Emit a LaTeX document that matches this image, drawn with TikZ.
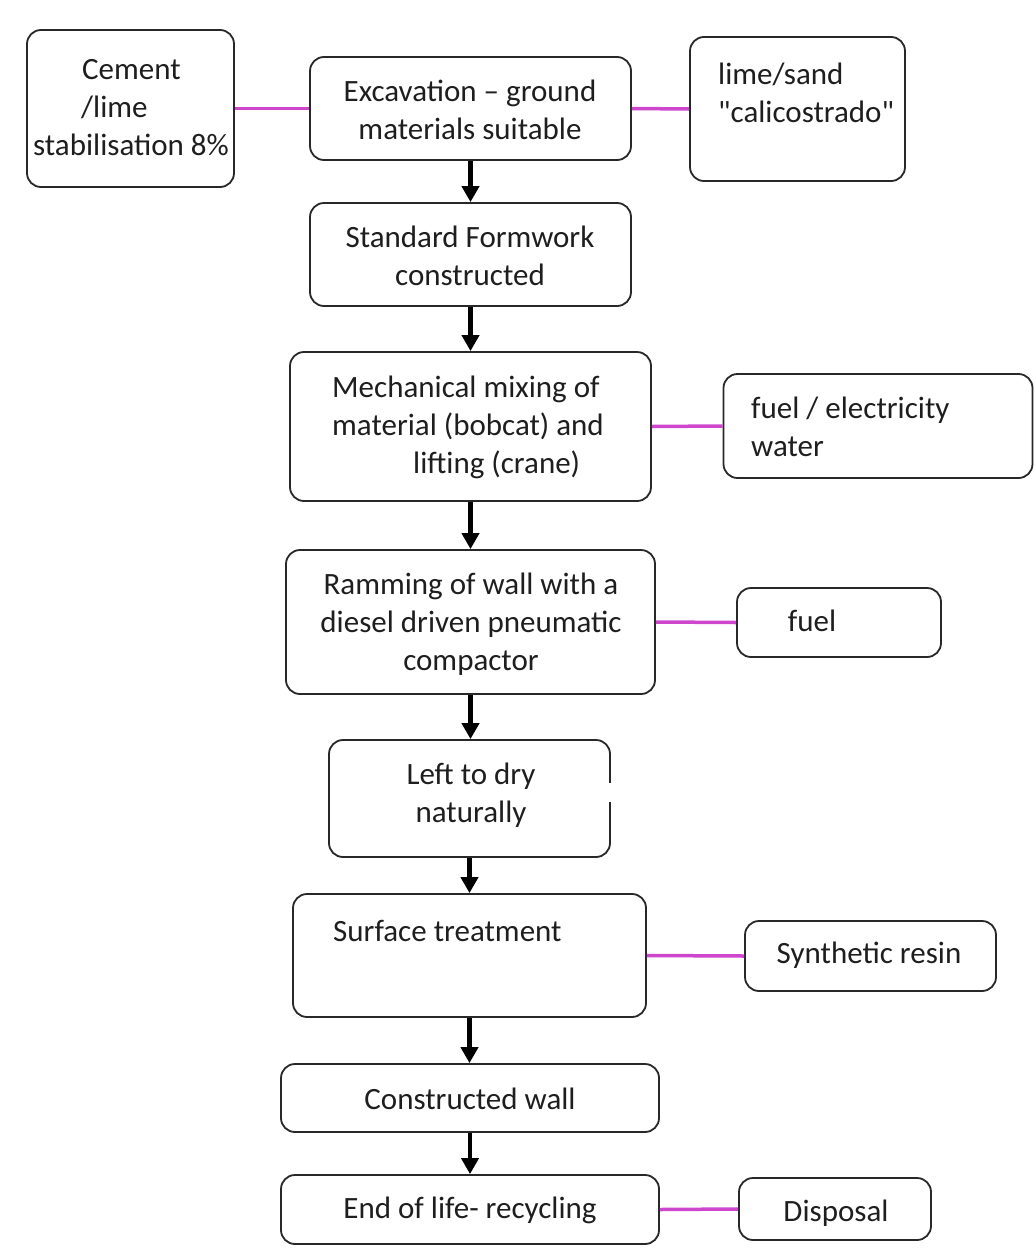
\documentclass[tikz,border=0pt]{standalone}
\usepackage{fontspec}
\setmainfont{Carlito}
\newfontfamily\plainq{Carlito}[Ligatures=TeXOff]
\usetikzlibrary{arrows.meta}
\definecolor{ink}{RGB}{30,30,30}
\definecolor{edge}{RGB}{40,40,40}
\definecolor{link}{RGB}{205,70,205}
\tikzset{
  box/.style={draw=edge, line width=1.8pt, rounded corners=14pt, inner sep=0pt, text=ink},
  txt/.style={inner sep=0pt, text=ink, font=\fontsize{31}{38}\selectfont},
  arr/.style={line width=4.2pt, black, -{Triangle[length=16pt,width=17pt]}},
  lnk/.style={line width=3.5pt, link}
}
\begin{document}
\begin{tikzpicture}[x=1pt,y=-1pt]
\useasboundingbox (0,0) rectangle (1034,1253);
% boxes
\node[box, minimum width=207pt, minimum height=157pt] (cem) at (130.5,108.5) {};
\node[box, minimum width=321pt, minimum height=103pt] (exc) at (470.5,108.5) {};
\node[box, minimum width=215pt, minimum height=144pt] (lime) at (797.5,109) {};
\node[box, minimum width=321pt, minimum height=103pt] (fw) at (470.5,254.5) {};
\node[box, minimum width=361pt, minimum height=149pt] (mix) at (470.5,426.5) {};
\node[box, minimum width=309pt, minimum height=104pt] (fe) at (878,426) {};
\node[box, minimum width=369pt, minimum height=144pt] (ram) at (470.5,622) {};
\node[box, minimum width=204pt, minimum height=69pt] (fuel) at (839,622.5) {};
\node[box, minimum width=281pt, minimum height=117pt] (dry) at (469.5,798.5) {};
\node[box, minimum width=353pt, minimum height=123pt] (surf) at (469.5,955.5) {};
\node[box, minimum width=251pt, minimum height=70pt] (syn) at (870.5,956) {};
\node[box, minimum width=378pt, minimum height=68pt] (cw) at (470,1098) {};
\node[box, minimum width=378pt, minimum height=69pt] (eol) at (470,1209.5) {};
\node[box, minimum width=192pt, minimum height=62pt] (disp) at (835,1209) {};
% break in the right side of the drying box
\fill[white] ([xshift=-3pt]dry.east |- 0,783) rectangle ([xshift=3pt]dry.east |- 0,802);
% texts
\node[txt, align=left, anchor=west] (tcem) at (33,108) {\hspace*{49pt}Cement\\\hspace*{48pt}/lime\\stabilisation 8\%};
\node[txt, align=center] (texc) at (470,110) {Excavation – ground\\materials suitable};
\node[txt, align=left, anchor=west] (tlime) at (718,93) {lime/sand\\{\plainq "calicostrado"}};
\node[txt, align=center] (tfw) at (470,256) {Standard Formwork\\constructed};
\node[txt, align=left, anchor=west] (tmix) at (332,427) {Mechanical mixing of\\material (bobcat) and\\\hspace*{81pt}lifting (crane)};
\node[txt, align=left, anchor=west] (tfe) at (751,427) {fuel / electricity\\water};
\node[txt, align=center] (tram) at (471,624) {Ramming of wall with a\\diesel driven pneumatic\\compactor};
\node[txt] (tfuel) at (812,621) {fuel};
\node[txt, align=center] (tdry) at (471,795) {Left to dry\\naturally};
\node[txt, anchor=west] (tsurf) at (333,931) {Surface treatment};
\node[txt] (tsyn) at (869,955) {Synthetic resin};
\node[txt] (tcw) at (470,1099) {Constructed wall};
\node[txt] (teol) at (470,1210) {End of life- recycling};
\node[txt] (tdisp) at (836,1213) {Disposal};
% flow arrows
\draw[arr] (exc.south) -- (exc.south |- fw.north);
\draw[arr] (fw.south) -- (fw.south |- mix.north);
\draw[arr] (mix.south) -- (mix.south |- ram.north);
\draw[arr] (ram.south) -- (ram.south |- dry.north);
\draw[arr] (dry.south) -- (dry.south |- surf.north);
\draw[arr] (surf.south) -- (surf.south |- cw.north);
\draw[arr] (cw.south) -- (cw.south |- eol.north);
% input links
\draw[lnk] (cem.east) -- (exc.west);
\draw[lnk] (exc.east) -- (lime.west);
\draw[lnk] (mix.east) -- (fe.west);
\draw[lnk] (ram.east) -- (fuel.west);
\draw[lnk] (surf.east) -- (syn.west);
\draw[lnk] (eol.east) -- (disp.west);
\end{tikzpicture}
\end{document}
